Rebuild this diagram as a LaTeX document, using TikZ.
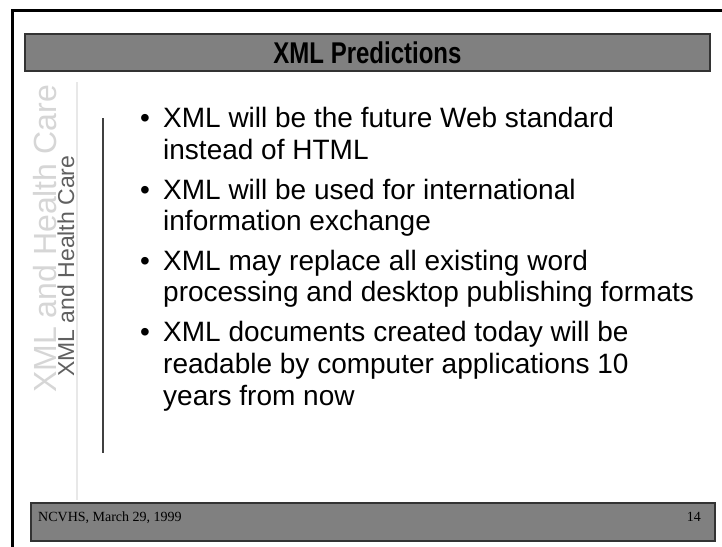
\documentclass[tikz,border=0pt]{standalone}
\usepackage{fontspec}
\setmainfont{Liberation Sans}
\newfontfamily\footfont{Liberation Serif}
\definecolor{barfill}{RGB}{128,128,128}
\definecolor{sidelight}{RGB}{214,214,214}
\definecolor{sidedark}{RGB}{96,96,96}
\definecolor{rulelight}{RGB}{232,232,232}
\begin{document}
\begin{tikzpicture}[x=1pt, y=-1pt,
    bar/.style={draw=black!80, line width=1.2pt, fill=barfill},
    txt/.style={anchor=base west, inner sep=0pt, font=\fontsize{28}{34}\selectfont},
    foot/.style={inner sep=0pt, font=\footfont\fontsize{14}{14}\selectfont}]
    \useasboundingbox (0,0) rectangle (722,546);
    \fill[white] (0,0) rectangle (722,546);
    \draw[line width=3pt] (12,560) -- (12,10) -- (740,10);
    \draw[bar] (25,34) rectangle (710,71);
    \node[xscale=0.8, font=\bfseries\fontsize{30}{30}\selectfont] (title) at (367.5,53) {XML Predictions};
    \node[rotate=90, anchor=base west, inner sep=0pt, text=sidelight, font=\fontsize{32}{32}\selectfont] (sidebig) at (56,393) {XML and Health Care};
    \node[rotate=90, anchor=base west, inner sep=0pt, text=sidedark, font=\fontsize{23}{23}\selectfont] (sidesmall) at (74,377) {XML and Health Care};
    \draw[line width=2pt, rulelight] (77,82) -- (77,500);
    \draw[line width=1.5pt, black!75] (103,118) -- (103,453);
    \node[txt] (d1) at (140,127) {•};
    \node[txt] (l1) at (163,127) {XML will be the future Web standard};
    \node[txt] (l2) at (163,159) {instead of HTML};
    \node[txt] (d2) at (140,199) {•};
    \node[txt] (l3) at (163,199) {XML will be used for international};
    \node[txt] (l4) at (163,230) {information exchange};
    \node[txt] (d3) at (140,270) {•};
    \node[txt] (l5) at (163,270) {XML may replace all existing word};
    \node[txt] (l6) at (163,301) {processing and desktop publishing formats};
    \node[txt] (d4) at (140,341) {•};
    \node[txt] (l7) at (163,341) {XML documents created today will be};
    \node[txt] (l8) at (163,373) {readable by computer applications 10};
    \node[txt] (l9) at (163,405) {years from now};
    \draw[bar] (31,503) rectangle (715,541);
    \node[foot, anchor=base west] (date) at (38,521) {NCVHS, March 29, 1999};
    \node[foot, anchor=base east] (page) at (701,521) {14};
\end{tikzpicture}
\end{document}
